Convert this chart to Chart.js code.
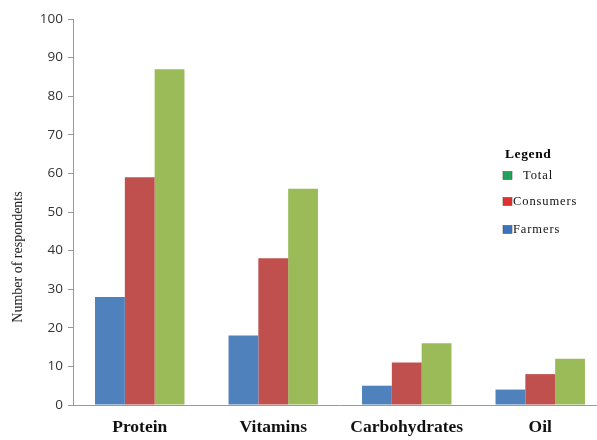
<!DOCTYPE html>
<html>
<head>
<meta charset="utf-8">
<script src="https://cdn.jsdelivr.net/npm/chart.js@4.4.0/dist/chart.umd.min.js"></script>
<style>
  html, body { margin: 0; padding: 0; background: #fff; overflow: hidden; }
  /* the original plot runs off the right edge, so the canvas is a bit wider than the page */
  #wrap { width: 608px; height: 440px; }
</style>
</head>
<body>
<div id="wrap"><canvas id="nutrientChart"></canvas></div>
<script>
// nutrient needs, by respondent group
const categories = ['Protein', 'Vitamins', 'Carbohydrates', 'Oil'];
const farmers = [28, 18, 5, 4];
const consumers = [59, 38, 11, 8];
const total = [87, 56, 16, 12];
const yTicks = [0, 10, 20, 30, 40, 50, 60, 70, 80, 90, 100];
const yTitle = 'Number of respondents';

// legend + y title drawn by hand, like the original figure
const boxLegend = {
  id: 'boxLegend',
  afterDraw(chart) {
    const ctx = chart.ctx;
    ctx.save();

    // y axis title
    ctx.save();
    ctx.translate(18, 257);
    ctx.rotate(-Math.PI / 2);
    ctx.textAlign = 'center';
    ctx.textBaseline = 'middle';
    ctx.fillStyle = '#222';
    ctx.font = '14px "Liberation Serif", serif';
    ctx.fillText(yTitle, 0, 0);
    ctx.restore();

    ctx.fillStyle = '#000';
    ctx.textBaseline = 'middle';
    ctx.letterSpacing = '0.6px';
    ctx.font = 'bold 13.5px "Liberation Serif", serif';
    ctx.fillText('Legend', 505, 155);
    const items = [
      { label: 'Total', color: '#1fa35a', y: 175.5, tx: 523 },
      { label: 'Consumers', color: '#e0302f', y: 201.5, tx: 513 },
      { label: 'Farmers', color: '#3d73b8', y: 229.5, tx: 513 }
    ];
    ctx.font = '12.5px "Liberation Serif", serif';
    ctx.letterSpacing = '0.9px';
    items.forEach(it => {
      ctx.fillStyle = it.color;
      ctx.fillRect(503, it.y - 4, 9, 8);
      ctx.strokeStyle = '#555';
      ctx.lineWidth = 0.6;
      ctx.strokeRect(503, it.y - 4, 9, 8);
      ctx.fillStyle = '#111';
      ctx.fillText(it.label, it.tx, it.y);
    });
    ctx.restore();
  }
};

const ctx = document.getElementById('nutrientChart').getContext('2d');

new Chart(ctx, {
  type: 'bar',
  data: {
    labels: categories,
    datasets: [
      { label: 'Farmers', data: farmers, backgroundColor: '#4F81BD' },
      { label: 'Consumers', data: consumers, backgroundColor: '#C0504D' },
      { label: 'Total', data: total, backgroundColor: '#9BBB59' }
    ]
  },
  options: {
    responsive: true,
    maintainAspectRatio: false,
    animation: false,
    datasets: {
      bar: { categoryPercentage: 0.67, barPercentage: 1.0 }
    },
    layout: { padding: { top: 19, right: 1, left: 1, bottom: 0 } },
    plugins: {
      legend: { display: false },
      tooltip: { enabled: false }
    },
    scales: {
      x: {
        grid: { display: false, drawTicks: false },
        border: { color: '#999', width: 1 },
        ticks: {
          color: '#111',
          padding: 12,
          font: { family: '"Liberation Serif", serif', size: 17.5, weight: 'bold' }
        },
        afterFit(scale) { scale.height = 35; }
      },
      y: {
        min: 0,
        max: 100,
        afterBuildTicks(scale) { scale.ticks = yTicks.map(v => ({ value: v })); },
        grid: { display: true, drawOnChartArea: false, drawTicks: true, tickLength: 5, color: '#999' },
        border: { color: '#999', width: 1 },
        ticks: {
          color: '#333',
          padding: 5,
          font: { family: '"Open Sans", sans-serif', size: 13.5 }
        },
        afterFit(scale) { scale.width = 72; }
      }
    }
  },
  plugins: [boxLegend]
});
</script>
</body>
</html>
